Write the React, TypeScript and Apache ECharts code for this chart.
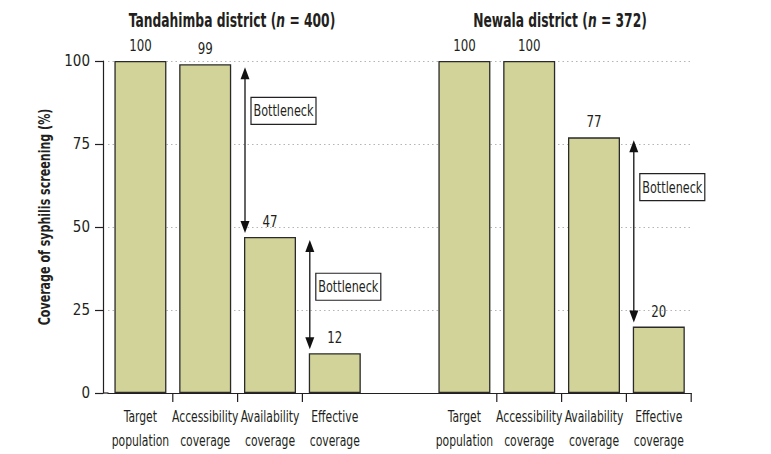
import React, { useEffect, useRef } from "react";
import * as echarts from "echarts";

const categories = [
  "Target\npopulation",
  "Accessibility\ncoverage",
  "Availability\ncoverage",
  "Effective\ncoverage",
  "",
  "Target\npopulation",
  "Accessibility\ncoverage",
  "Availability\ncoverage",
  "Effective\ncoverage",
];
const coverage: (number | null)[] = [100, 99, 47, 12, null, 100, 100, 77, 20];
const yTicks = [0, 25, 50, 75, 100];
const tickAfterCategory = [0, 1, 2, 5, 6, 7, 8];
// [category index of lower bar, from value, to value, label box centre value]
const bottlenecks = [
  [2, 99, 47, 85],
  [3, 47, 12, 32],
  [8, 77, 20, 62],
];
const districtTitles = [
  { name: "Tandahimba district", n: 400 },
  { name: "Newala district", n: 372 },
];
const yAxisTitle = "Coverage of syphilis screening (%)";

const FONT = "'DejaVu Sans Condensed', 'DejaVu Sans', sans-serif";
const INK = "#231f20";

export default function App() {
  const ref = useRef<HTMLDivElement>(null);
  useEffect(() => {
    document.body.style.margin = "0";
    const chart = echarts.init(ref.current!, undefined, { renderer: "svg" });
    const barWidth = 52;
    chart.setOption({
      animation: false,
      textStyle: { fontFamily: FONT, color: INK },
      grid: { left: 108, right: 79.8, top: 61, bottom: 61, containLabel: false },
      xAxis: {
        type: "category",
        data: categories,
        boundaryGap: true,
        axisLine: { lineStyle: { color: INK, width: 1.2 } },
        axisTick: { show: false },
        axisLabel: { show: false },
      },
      yAxis: {
        type: "value",
        min: 0,
        max: 100,
        interval: 25,
        offset: 5,
        axisLine: { show: true, lineStyle: { color: INK, width: 1.2 } },
        axisTick: { show: true, length: 8, lineStyle: { color: INK, width: 1.2 } },
        axisLabel: {
          margin: 13,
          fontSize: 15,
          color: INK,
          fontFamily: FONT,
          formatter: (v: number) => (yTicks.includes(v) ? String(v) : ""),
        },
        splitLine: {
          show: true,
          lineStyle: { color: "#b5b5b5", type: [1.5, 3], width: 1 },
        },
      },
      graphic: [
        ...districtTitles.map((t, i) => ({
          type: "text",
          x: i === 0 ? 232 : 560,
          y: 21,
          scaleX: 0.72,
          style: {
            text: `{b|${t.name} (}{i|n}{b| = ${t.n})}`,
            align: "center",
            verticalAlign: "middle",
            rich: {
              b: { fontFamily: FONT, fontWeight: "bold", fontSize: 19, fill: INK },
              i: { fontFamily: FONT, fontWeight: "bold", fontStyle: "italic", fontSize: 19, fill: INK },
            },
          },
        })),
        {
          type: "text",
          x: 44,
          y: 217,
          rotation: Math.PI / 2,
          scaleX: 0.77,
          style: {
            text: yAxisTitle,
            align: "center",
            verticalAlign: "middle",
            fontFamily: FONT,
            fontWeight: "bold",
            fontSize: 16,
            fill: INK,
          },
        },
        {
          type: "line",
          shape: { x1: 103, y1: 393, x2: 108.5, y2: 393 },
          style: { stroke: INK, lineWidth: 1.2 },
        },
      ],
      series: [
        {
          type: "bar",
          data: coverage,
          barWidth,
          itemStyle: { color: "#d2d398", borderColor: "#2a2a2a", borderWidth: 1.3 },
          z: 2,
        },
        {
          type: "custom",
          data: coverage.map((v, i) => [i, v]).filter((d) => d[1] !== null),
          clip: false,
          silent: true,
          z: 3,
          renderItem: (params: any, api: any) => {
            const p = api.coord([api.value(0), api.value(1)]);
            return {
              type: "text",
              x: p[0],
              y: p[1] - 16,
              scaleX: 0.82,
              style: {
                text: String(api.value(1)),
                align: "center",
                verticalAlign: "middle",
                fontFamily: FONT,
                fontSize: 16,
                fill: INK,
              },
            };
          },
        },
        {
          type: "custom",
          data: categories.map((c, i) => [i, 0]),
          clip: false,
          silent: true,
          z: 3,
          renderItem: (params: any, api: any) => {
            const p = api.coord([api.value(0), 0]);
            return {
              type: "text",
              x: p[0],
              y: p[1] + 11,
              scaleX: 0.75,
              style: {
                text: categories[params.dataIndex],
                align: "center",
                verticalAlign: "top",
                lineHeight: 24,
                fontFamily: FONT,
                fontSize: 16,
                fill: INK,
              },
            };
          },
        },
        {
          type: "custom",
          data: tickAfterCategory.map((c) => [c, 0]),
          clip: false,
          silent: true,
          z: 3,
          renderItem: (params: any, api: any) => {
            const p = api.coord([api.value(0), 0]);
            const bw = api.size([1, 0])[0];
            const x = p[0] + bw / 2;
            return {
              type: "line",
              shape: { x1: x, y1: p[1], x2: x, y2: p[1] + 9 },
              style: { stroke: INK, lineWidth: 1.2 },
            };
          },
        },
        {
          type: "custom",
          data: bottlenecks,
          encode: { x: 0, y: 1 },
          clip: false,
          silent: true,
          z: 4,
          renderItem: (params: any, api: any) => {
            const c = api.value(0);
            const top = api.coord([c, api.value(1)]);
            const bot = api.coord([c, api.value(2)]);
            const mid = api.coord([c, api.value(3)]);
            const x = top[0] - barWidth / 2 + 1;
            const y1 = top[1] + 3;
            const y2 = bot[1] - 4;
            const hw = 4.5;
            const hh = 12;
            const bx = x + 6;
            const bwid = 65;
            const bh = 27;
            return {
              type: "group",
              children: [
                {
                  type: "line",
                  shape: { x1: x, y1: y1 + hh - 1, x2: x, y2: y2 - hh + 1 },
                  style: { stroke: "#111", lineWidth: 1.3 },
                },
                {
                  type: "polygon",
                  shape: { points: [[x, y1], [x - hw, y1 + hh], [x + hw, y1 + hh]] },
                  style: { fill: "#111" },
                },
                {
                  type: "polygon",
                  shape: { points: [[x, y2], [x - hw, y2 - hh], [x + hw, y2 - hh]] },
                  style: { fill: "#111" },
                },
                {
                  type: "rect",
                  shape: { x: bx, y: mid[1] - bh / 2, width: bwid, height: bh },
                  style: { fill: "#fff", stroke: "#222", lineWidth: 1.2 },
                },
                {
                  type: "text",
                  x: bx + bwid / 2,
                  y: mid[1],
                  scaleX: 0.78,
                  style: {
                    text: "Bottleneck",
                    align: "center",
                    verticalAlign: "middle",
                    fontFamily: FONT,
                    fontSize: 16,
                    fill: INK,
                  },
                },
              ],
            };
          },
        },
      ],
    });
    return () => chart.dispose();
  }, []);
  return <div ref={ref} style={{ width: 771, height: 454 }} />;
}
